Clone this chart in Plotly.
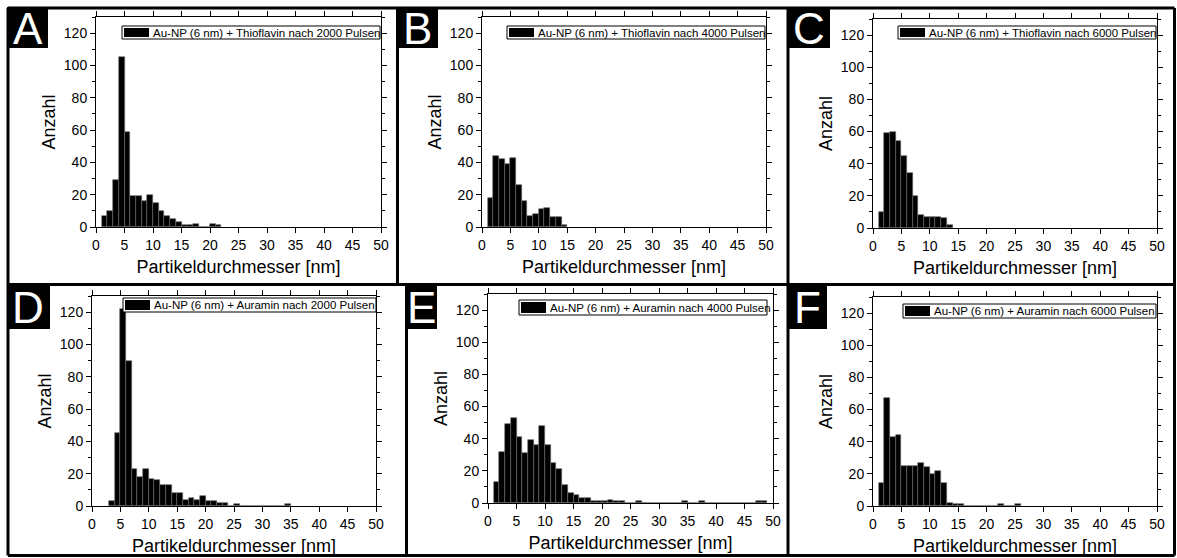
import plotly.graph_objects as go

W, H = 1177, 558
FONT = "Liberation Sans, Arial, sans-serif"

# ---------------- data (counts per 1 nm bin; first value belongs to bin starting at *_start) ----
A_start = 1
A_counts = [7, 10, 29, 105, 59, 19, 19, 16, 20, 15, 10, 7, 5, 3, 1, 1, 2, 0, 0, 2, 1]
B_start = 1
B_counts = [18, 44, 42, 39, 43, 26, 16, 7, 8, 11, 12, 6, 6, 1]
C_start = 1
C_counts = [10, 59, 60, 54, 45, 34, 20, 8, 7, 7, 7, 6, 2]
D_start = 3
D_counts = [3, 45, 122, 90, 23, 18, 23, 17, 16, 13, 13, 8, 8, 4, 5, 4, 6, 3, 3, 2, 2, 0, 1,
            0, 0, 0, 0, 0, 0, 0, 0, 1]
E_start = 1
E_counts = [13, 32, 49, 53, 41, 31, 39, 36, 48, 36, 25, 21, 11, 6, 5, 3, 3, 1, 1, 1, 2, 1, 1,
            0, 0, 1, 0, 0, 0, 0, 0, 0, 0, 1, 0, 0, 1, 0, 0, 0, 0, 0, 0, 0, 0, 0, 1, 1]
F_start = 1
F_counts = [14, 67, 43, 44, 25, 25, 25, 27, 24, 20, 22, 14, 2, 1, 1, 0, 0, 0, 0, 0, 0, 1, 0, 0, 1]

panel_letters = ["A", "B", "C", "D", "E", "F"]
legend_labels = [
    "Au-NP (6 nm) + Thioflavin nach 2000 Pulsen",
    "Au-NP (6 nm) + Thioflavin nach 4000 Pulsen",
    "Au-NP (6 nm) + Thioflavin nach 6000 Pulsen",
    "Au-NP (6 nm) + Auramin nach 2000 Pulsen",
    "Au-NP (6 nm) + Auramin nach 4000 Pulsen",
    "Au-NP (6 nm) + Auramin nach 6000 Pulsen",
]
x_title = "Partikeldurchmesser [nm]"
y_title = "Anzahl"
x_tickvals = [0, 5, 10, 15, 20, 25, 30, 35, 40, 45, 50]
y_tickvals = [0, 20, 40, 60, 80, 100, 120]

series = [(A_start, A_counts), (B_start, B_counts), (C_start, C_counts),
          (D_start, D_counts), (E_start, E_counts), (F_start, F_counts)]

# ---------------- layout geometry (pixels) ----------------
plot_px = [  # left, right, top, bottom
    (96, 381, 17, 227),
    (482, 766, 17, 227),
    (873, 1157, 19, 228),
    (92, 376, 296, 506),
    (488, 773, 294, 503),
    (873, 1157, 297, 506),
]
legend_px = [  # left, right, top, bottom
    (122, 380, 26, 39),
    (507, 765, 26, 39),
    (898, 1156, 26, 39),
    (123, 376, 298, 312),
    (519, 767, 300, 315),
    (903, 1156, 304, 318),
]
letter_px = [  # left, right, top, bottom
    (7, 48, 7, 48),
    (396, 438, 7, 48),
    (787, 830, 7, 48),
    (7, 50, 284, 329),
    (405, 437, 284, 329),
    (787, 827, 284, 329),
]


def fx(px):
    return px / W


def fy(py):
    return 1 - py / H


fig = go.Figure()
layout = dict(
    width=W, height=H,
    margin=dict(l=0, r=0, t=0, b=0),
    paper_bgcolor="white", plot_bgcolor="white",
    showlegend=False, bargap=0,
    font=dict(family=FONT, color="black", size=14),
)

shapes = []
annotations = []

for i, ((start, counts), (l, r, t, b)) in enumerate(zip(series, plot_px)):
    n = i + 1
    xa = "x" if n == 1 else f"x{n}"
    ya = "y" if n == 1 else f"y{n}"
    bins = [start + k for k in range(len(counts))]
    fig.add_trace(go.Bar(
        x=bins, y=counts, width=1, offset=0,
        marker=dict(color="black", line=dict(color="#6a6a6a", width=0.6)),
        name=legend_labels[i], xaxis=xa, yaxis=ya,
    ))
    axkey_x = "xaxis" if n == 1 else f"xaxis{n}"
    axkey_y = "yaxis" if n == 1 else f"yaxis{n}"
    layout[axkey_x] = dict(
        domain=[fx(l), fx(r)], anchor=ya, range=[0, 50],
        tickvals=x_tickvals, ticks="outside", ticklen=5, tickwidth=1, tickcolor="black",
        showline=True, linecolor="black", linewidth=1, mirror="ticks",
        showgrid=False, zeroline=False,
        tickfont=dict(family=FONT, size=14, color="black"),
        title=dict(text=x_title, font=dict(family=FONT, size=18, color="black"), standoff=8),
        automargin=False,
    )
    layout[axkey_y] = dict(
        domain=[fy(b), fy(t)], anchor=xa, range=[0, 130],
        tickvals=y_tickvals, ticks="outside", ticklen=5, tickwidth=1, tickcolor="black",
        minor=dict(dtick=10, tick0=0, ticks="outside", ticklen=3, tickcolor="black", showgrid=False),
        showline=True, linecolor="black", linewidth=1, mirror="ticks",
        showgrid=False, zeroline=False,
        tickfont=dict(family=FONT, size=14, color="black"),
        title=dict(text=y_title, font=dict(family=FONT, size=18, color="black"), standoff=3),
        automargin=False,
    )

    # legend box
    ll, lr, lt, lb = legend_px[i]
    shapes.append(dict(type="rect", xref="paper", yref="paper",
                       x0=fx(ll), x1=fx(lr), y0=fy(lb), y1=fy(lt),
                       line=dict(color="black", width=1), fillcolor="white", layer="above"))
    shapes.append(dict(type="rect", xref="paper", yref="paper",
                       x0=fx(ll + 2), x1=fx(ll + 27), y0=fy(lb - 2), y1=fy(lt + 2),
                       line=dict(width=0), fillcolor="black", layer="above"))
    annotations.append(dict(text=legend_labels[i], xref="paper", yref="paper",
                            x=fx(ll + 29), y=fy((lt + lb) / 2), xanchor="left", yanchor="middle",
                            showarrow=False, font=dict(family=FONT, size=11.5, color="black")))

    # panel letter box
    bl, br, bt, bb = letter_px[i]
    shapes.append(dict(type="rect", xref="paper", yref="paper",
                       x0=fx(bl), x1=fx(br), y0=fy(bb), y1=fy(bt),
                       line=dict(width=0), fillcolor="black", layer="above"))
    annotations.append(dict(text=panel_letters[i], xref="paper", yref="paper",
                            x=fx((bl + br) / 2), y=fy((bt + bb) / 2 + 1),
                            xanchor="center", yanchor="middle", showarrow=False,
                            font=dict(family=FONT, size=44, color="white")))

# frame and dividers
line = dict(color="black", width=3)
RX, BY = 1174.5, 555.5
frame_lines = [
    (8, 8, RX, 8), (8, BY, RX, BY), (8, 8, 8, BY), (RX, 8, RX, BY),
    (8, 284.5, RX, 284.5),
    (397.5, 8, 397.5, 284.5), (788, 8, 788, 284.5),
    (406.5, 284.5, 406.5, BY), (788, 284.5, 788, BY),
]
for x0, y0, x1, y1 in frame_lines:
    shapes.append(dict(type="line", xref="paper", yref="paper",
                       x0=fx(x0), y0=fy(y0), x1=fx(x1), y1=fy(y1), line=line, layer="above"))

layout["shapes"] = shapes
layout["annotations"] = annotations
fig.update_layout(**layout)
fig.write_html("out.html",
               config={"displayModeBar": False},
               post_script="document.body.style.margin='0';document.body.style.overflow='hidden';")
